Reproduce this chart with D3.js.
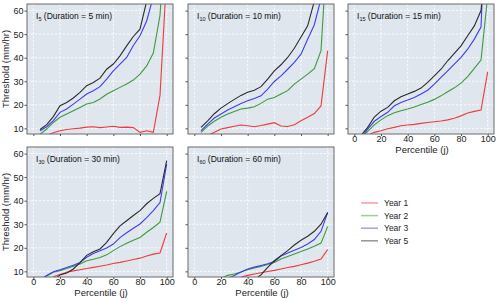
<!DOCTYPE html>
<html>
<head>
<meta charset="utf-8">
<script src="https://cdn.jsdelivr.net/npm/d3@7"></script>
<style>
  body { margin: 0; background: #fff; }
  svg { display: block; font-family: "Liberation Sans", Arial, sans-serif; }
</style>
</head>
<body>
<div id="chart"></div>
<script>
// percentile positions shared by every series
const percentiles = [5, 10, 15, 20, 25, 30, 35, 40, 45, 50, 55, 60, 65, 70, 75, 80, 85, 90, 95, 100];
const seriesNames = ["Year 1", "Year 2", "Year 3", "Year 5"];
const seriesColors = ["#ef3b3b", "#3d9a3d", "#3d3def", "#2b2b2b"];
const xTicks = [0, 20, 40, 60, 80, 100];
const yTicks = [10, 20, 30, 40, 50, 60];

// I5
const i5Year1 = [null, 7.0, 8.1, 9.0, 9.5, 9.8, 10.1, 10.5, 10.7, 10.3, 10.6, 10.9, 10.4, 10.5, 10.3, 8.3, 9.0, 8.3, 24, 75];
const i5Year2 = [7.5, 9.7, 12.5, 14.7, 16.1, 17.5, 18.9, 20.3, 21.0, 22.5, 24.5, 26.0, 27.4, 28.8, 30.5, 33.0, 36.5, 42.0, 58, 100];
const i5Year3 = [9.0, 10.7, 13.3, 16.8, 18.2, 20.3, 22.4, 24.6, 26.0, 27.7, 30.9, 34.4, 37.3, 40.1, 45.2, 49.3, 55.6, 66, 90, null];
const i5Year5 = [9.5, 11.6, 15.0, 19.6, 21.0, 22.9, 25.3, 28.1, 29.5, 31.3, 35.1, 37.3, 40.8, 45.0, 49.0, 52.1, 64, 80, null, null];

// I10
const i10Year1 = [null, 7.0, 8.3, 9.7, 10.3, 10.9, 11.4, 11.1, 10.7, 11.2, 11.8, 12.4, 11.0, 10.8, 11.5, 13.2, 14.7, 16.3, 19.5, 43];
const i10Year2 = [8.3, 11.0, 13.0, 14.7, 16.1, 17.2, 18.2, 18.6, 19.2, 20.6, 22.4, 23.1, 24.6, 26.0, 28.8, 30.9, 33.0, 35.3, 43, 90];
const i10Year3 = [9.0, 11.8, 14.4, 16.1, 17.8, 19.2, 20.6, 21.7, 22.7, 23.8, 26.7, 29.9, 32.3, 35.1, 38.0, 41.5, 47.8, 54, 65, null];
const i10Year5 = [10.4, 13.2, 16.2, 18.6, 20.5, 22.3, 24.0, 25.3, 26.2, 27.7, 30.9, 34.4, 37.0, 40.1, 44.0, 48.8, 53.5, 64, null, null];

// I15
const i15Year1 = [null, 7.0, 8.3, 9.0, 9.8, 10.4, 11.1, 11.4, 11.7, 12.1, 12.5, 12.8, 13.1, 13.6, 14.3, 15.3, 16.5, 17.2, 17.8, 34];
const i15Year2 = [5.5, 8.7, 11.5, 13.6, 15.4, 16.6, 17.5, 18.2, 19.1, 20.1, 21.1, 22.3, 23.8, 25.5, 27.2, 29.2, 32.0, 35.5, 39, 66];
const i15Year3 = [6.0, 9.7, 13.0, 15.0, 16.8, 19.6, 21.0, 22.0, 23.1, 24.6, 26.2, 28.8, 31.6, 34.4, 37.3, 40.1, 43.6, 47.9, 53, 118];
const i15Year5 = [7.0, 10.4, 14.8, 17.3, 18.9, 21.7, 23.4, 24.6, 25.7, 27.1, 29.5, 32.3, 35.1, 38.7, 41.8, 45.0, 49.3, 53.5, 60, 90];

// I30
const i30Year1 = [null, null, 7.7, 8.7, 9.6, 10.2, 10.7, 11.2, 11.7, 12.2, 12.7, 13.3, 13.8, 14.4, 15.0, 15.6, 16.5, 17.3, 17.8, 26.3];
const i30Year2 = [6.0, 8.0, 9.6, 10.3, 11.2, 12.2, 13.1, 14.5, 15.1, 15.9, 17.0, 18.8, 20.5, 21.9, 23.2, 24.4, 26.6, 28.6, 30.9, 44];
const i30Year3 = [6.5, 8.2, 9.8, 10.7, 11.6, 12.6, 13.8, 16.0, 17.6, 18.7, 19.9, 21.6, 24.3, 26.4, 28.3, 30.1, 32.8, 35.8, 39.2, 55.5];
const i30Year5 = [null, null, 6.0, 8.5, 9.3, 11.0, 13.7, 16.8, 18.3, 19.5, 22.3, 26.0, 29.3, 31.5, 33.7, 35.8, 38.7, 41.0, 43.0, 57.0];

// I60
const i60Year1 = [null, null, null, null, null, null, 7.6, 8.3, 8.9, 9.4, 9.9, 10.4, 11.0, 11.6, 12.1, 12.8, 13.5, 14.3, 15.2, 19.2];
const i60Year2 = [null, null, null, 7.0, 8.3, 8.9, 9.7, 10.7, 11.4, 12.1, 12.9, 13.8, 15.2, 16.3, 17.4, 18.4, 19.5, 20.7, 22.0, 29.0];
const i60Year3 = [null, null, null, null, 7.0, 8.2, 9.7, 11.0, 11.8, 12.5, 13.2, 14.2, 16.5, 17.8, 19.0, 20.1, 21.6, 23.5, 27.0, 35.0];
const i60Year5 = [null, null, null, null, null, null, null, null, 6.5, 8.5, 11.7, 14.5, 16.7, 18.8, 21.2, 23.2, 24.9, 27.0, 30.0, 35.0];

const panels = [
    { sub: "5",  dur: "5",  col: 0, row: 0, series: [i5Year1, i5Year2, i5Year3, i5Year5] },
    { sub: "10", dur: "10", col: 1, row: 0, series: [i10Year1, i10Year2, i10Year3, i10Year5] },
    { sub: "15", dur: "15", col: 2, row: 0, series: [i15Year1, i15Year2, i15Year3, i15Year5] },
    { sub: "30", dur: "30", col: 0, row: 1, series: [i30Year1, i30Year2, i30Year3, i30Year5] },
    { sub: "60", dur: "60", col: 1, row: 1, series: [i60Year1, i60Year2, i60Year3, i60Year5] }
];

const width = 500, height = 301;
const colLeft = [27, 188, 348];
const rowTop = [4, 147];
const pw = 146, ph = 130;

const svg = d3.select("#chart")
    .append("svg")
    .attr("width", width)
    .attr("height", height);

const x = d3.scaleLinear().domain([-4.75, 104.75]).range([0, pw]);
const y = d3.scaleLinear().domain([7.6, 62.8]).range([ph, 0]);

panels.forEach((p, pi) => {
    const g = svg.append("g")
        .attr("transform", `translate(${colLeft[p.col]},${rowTop[p.row]})`);

    g.append("rect")
        .attr("width", pw)
        .attr("height", ph)
        .attr("fill", "#dfe6ee");

    // dashed white grid
    g.append("g").selectAll("line.vx")
        .data(xTicks).enter().append("line")
        .attr("x1", d => x(d)).attr("x2", d => x(d))
        .attr("y1", 0).attr("y2", ph)
        .attr("stroke", "#fff").attr("stroke-width", 0.8)
        .attr("stroke-dasharray", "2.5,1.5");
    g.append("g").selectAll("line.hy")
        .data(yTicks).enter().append("line")
        .attr("x1", 0).attr("x2", pw)
        .attr("y1", d => y(d)).attr("y2", d => y(d))
        .attr("stroke", "#fff").attr("stroke-width", 0.8)
        .attr("stroke-dasharray", "2.5,1.5");

    g.append("clipPath").attr("id", "clip" + pi)
        .append("rect").attr("width", pw).attr("height", ph);

    const line = d3.line()
        .defined(d => d[1] != null)
        .x(d => x(d[0]))
        .y(d => y(d[1]));

    g.append("g").attr("clip-path", `url(#clip${pi})`)
        .selectAll("path")
        .data(p.series).enter().append("path")
        .attr("d", s => line(percentiles.map((v, i) => [v, s[i]])))
        .attr("fill", "none")
        .attr("stroke", (s, i) => seriesColors[i])
        .attr("stroke-width", 1.1);

    g.append("rect")
        .attr("width", pw).attr("height", ph)
        .attr("fill", "none").attr("stroke", "#6b6b6b").attr("stroke-width", 1);

    // axes
    const showX = p.row === 1 || p.col === 2;
    const xAxis = g.append("g")
        .attr("transform", `translate(0,${ph})`)
        .call(d3.axisBottom(x).tickValues(xTicks).tickSize(2).tickPadding(0)
            .tickFormat(showX ? d3.format("d") : ""));
    const yAxis = g.append("g")
        .call(d3.axisLeft(y).tickValues(yTicks).tickSize(2.5).tickPadding(1)
            .tickFormat(p.col === 0 ? d3.format("d") : ""));
    [xAxis, yAxis].forEach(a => {
        a.select(".domain").remove();
        a.selectAll(".tick line").attr("stroke", "#555");
        a.selectAll("text").attr("fill", "#222").style("font-size", "9px");
    });

    if (showX) {
        g.append("text")
            .attr("x", pw / 2 + 1)
            .attr("y", ph + 19)
            .attr("text-anchor", "middle")
            .attr("fill", "#222")
            .style("font-size", "9.5px")
            .text("Percentile (j)");
    }
    if (p.col === 0) {
        g.append("text")
            .attr("transform", `translate(-18,${ph / 2}) rotate(-90)`)
            .attr("text-anchor", "middle")
            .attr("fill", "#222")
            .style("font-size", "9.5px")
            .text("Threshold (mm/hr)");
    }

    // panel title with subscript
    const t = g.append("text")
        .attr("x", 9)
        .attr("y", 15)
        .attr("fill", "#111")
        .style("font-size", "8.5px");
    t.append("tspan").text("I");
    t.append("tspan").attr("dy", 2).style("font-size", "5.5px").text(p.sub);
    t.append("tspan").attr("dy", -2).text(` (Duration = ${p.dur} min)`);
});

// legend
const legend = svg.append("g").attr("transform", "translate(361,203)");
seriesNames.forEach((name, i) => {
    const row = legend.append("g").attr("transform", `translate(0,${i * 12.6})`);
    row.append("line")
        .attr("x1", 0).attr("x2", 17)
        .attr("stroke", seriesColors[i])
        .attr("stroke-opacity", 0.5)
        .attr("stroke-width", 1.5);
    row.append("text")
        .attr("x", 23)
        .attr("dy", "0.35em")
        .attr("fill", "#222")
        .style("font-size", "8.5px")
        .text(name);
});
</script>
</body>
</html>
